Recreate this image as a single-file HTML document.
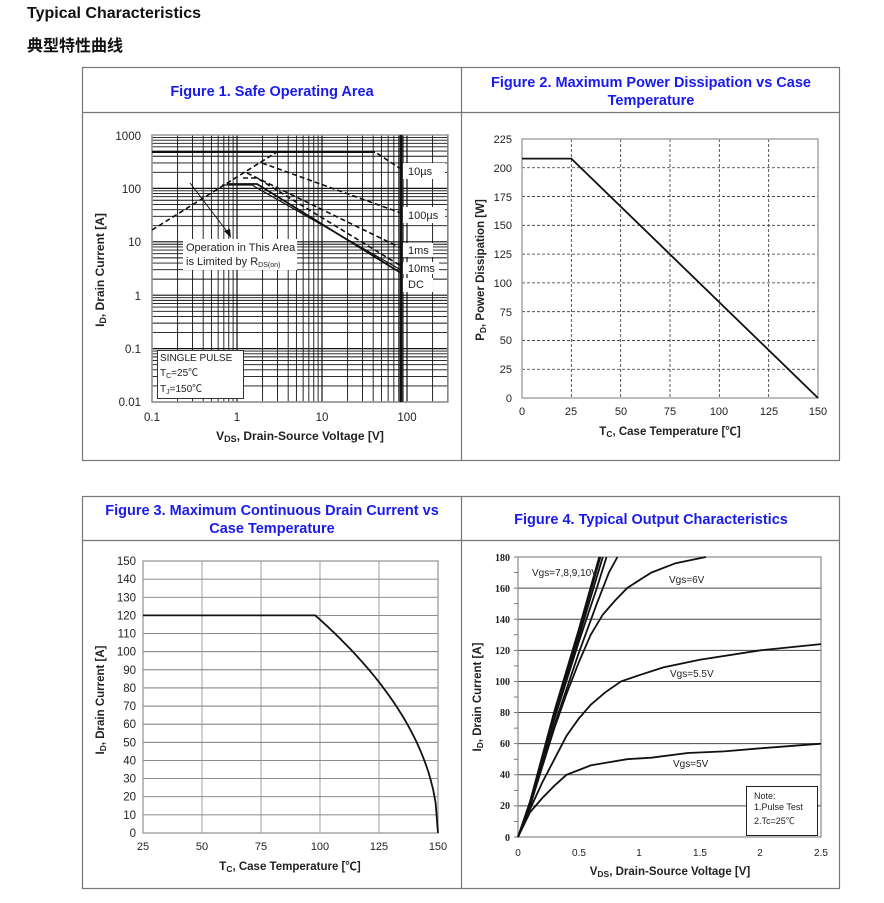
<!DOCTYPE html>
<html><head><meta charset="utf-8"><style>
html,body{margin:0;padding:0;background:#fff;}
svg{display:block;}
text{font-family:"Liberation Sans","Noto Sans CJK SC",sans-serif;}
</style></head><body>
<svg id="s" width="884" height="903" viewBox="0 0 884 903" xmlns="http://www.w3.org/2000/svg">
<text x="27" y="18" font-size="16" font-weight="bold" fill="#111">Typical Characteristics</text>
<text x="27" y="51" font-size="16" font-weight="bold" fill="#111">典型特性曲线</text>
<g fill="none" stroke="#777" stroke-width="1.2">
<rect x="82.5" y="67.5" width="757" height="393"/>
<line x1="461.5" y1="67" x2="461.5" y2="461"/>
<line x1="82" y1="112.5" x2="840" y2="112.5"/>
<rect x="82.5" y="496.5" width="757" height="392"/>
<line x1="461.5" y1="496" x2="461.5" y2="889"/>
<line x1="82" y1="540.5" x2="840" y2="540.5"/>
</g>
<g font-size="14.5" font-weight="bold" fill="#1a1aee" text-anchor="middle">
<text x="272" y="96">Figure 1. Safe Operating Area</text>
<text x="651" y="87">Figure 2. Maximum Power Dissipation vs Case</text>
<text x="651" y="105">Temperature</text>
<text x="272" y="515">Figure 3. Maximum Continuous Drain Current vs</text>
<text x="272" y="533">Case Temperature</text>
<text x="651" y="524">Figure 4. Typical Output Characteristics</text>
</g>
<g id="g1"></g><g id="g2"></g><g id="g3"></g><g id="g4"></g>
<g font-size="11.5" fill="#222" text-anchor="end">
<text x="141" y="140">1000</text><text x="141" y="193">100</text><text x="141" y="246">10</text>
<text x="141" y="300">1</text><text x="141" y="353">0.1</text><text x="141" y="406">0.01</text>
</g>
<g font-size="11.5" fill="#222" text-anchor="middle">
<text x="152" y="421">0.1</text><text x="237" y="421">1</text><text x="322" y="421">10</text><text x="407" y="421">100</text>
</g>
<text x="300" y="440" font-size="12" font-weight="bold" text-anchor="middle" fill="#222">V<tspan font-size="9" dy="2">DS</tspan><tspan dy="-2">, Drain-Source Voltage [V]</tspan></text>
<text transform="translate(104,270) rotate(-90)" font-size="12" font-weight="bold" text-anchor="middle" fill="#222">I<tspan font-size="9" dy="2">D</tspan><tspan dy="-2">, Drain Current [A]</tspan></text>
<g font-size="11" fill="#222" text-anchor="end">
<text x="512" y="143">225</text><text x="512" y="172">200</text><text x="512" y="201">175</text><text x="512" y="229">150</text><text x="512" y="258">125</text><text x="512" y="287">100</text><text x="512" y="316">75</text><text x="512" y="344">50</text><text x="512" y="373">25</text><text x="512" y="402">0</text>
</g>
<g font-size="11" fill="#222" text-anchor="middle">
<text x="522" y="415">0</text><text x="571" y="415">25</text><text x="621" y="415">50</text><text x="670" y="415">75</text><text x="719" y="415">100</text><text x="769" y="415">125</text><text x="818" y="415">150</text>
</g>
<text x="670" y="435" font-size="11.5" font-weight="bold" text-anchor="middle" fill="#222">T<tspan font-size="8.5" dy="2">C</tspan><tspan dy="-2">, Case Temperature [℃]</tspan></text>
<text transform="translate(484,270) rotate(-90)" font-size="11.5" font-weight="bold" text-anchor="middle" fill="#222">P<tspan font-size="8.5" dy="2">D</tspan><tspan dy="-2">, Power Dissipation [W]</tspan></text>
<g font-size="11" fill="#222" text-anchor="end" id="f3y"></g>
<g font-size="11" fill="#222" text-anchor="middle">
<text x="143" y="850">25</text><text x="202" y="850">50</text><text x="261" y="850">75</text><text x="320" y="850">100</text><text x="379" y="850">125</text><text x="438" y="850">150</text>
</g>
<text x="290" y="870" font-size="11.5" font-weight="bold" text-anchor="middle" fill="#222">T<tspan font-size="8.5" dy="2">C</tspan><tspan dy="-2">, Case Temperature [℃]</tspan></text>
<text transform="translate(104,700) rotate(-90)" font-size="11.5" font-weight="bold" text-anchor="middle" fill="#222">I<tspan font-size="8.5" dy="2">D</tspan><tspan dy="-2">, Drain Current [A]</tspan></text>
<g font-size="10" font-weight="bold" fill="#222" text-anchor="end">
<text x="510" y="561" style="font-family:'Liberation Serif',serif">180</text><text x="510" y="592" style="font-family:'Liberation Serif',serif">160</text><text x="510" y="623" style="font-family:'Liberation Serif',serif">140</text><text x="510" y="654" style="font-family:'Liberation Serif',serif">120</text><text x="510" y="685" style="font-family:'Liberation Serif',serif">100</text><text x="510" y="716" style="font-family:'Liberation Serif',serif">80</text><text x="510" y="747" style="font-family:'Liberation Serif',serif">60</text><text x="510" y="778" style="font-family:'Liberation Serif',serif">40</text><text x="510" y="809" style="font-family:'Liberation Serif',serif">20</text><text x="510" y="841" style="font-family:'Liberation Serif',serif">0</text>
</g>
<g font-size="10" fill="#222" text-anchor="middle">
<text x="518" y="856">0</text><text x="579" y="856">0.5</text><text x="639" y="856">1</text><text x="700" y="856">1.5</text><text x="760" y="856">2</text><text x="821" y="856">2.5</text>
</g>
<text x="670" y="875" font-size="11.5" font-weight="bold" text-anchor="middle" fill="#222">V<tspan font-size="8.5" dy="2">DS</tspan><tspan dy="-2">, Drain-Source Voltage [V]</tspan></text>
<text transform="translate(481,697) rotate(-90)" font-size="11.5" font-weight="bold" text-anchor="middle" fill="#222">I<tspan font-size="8.5" dy="2">D</tspan><tspan dy="-2">, Drain Current [A]</tspan></text>
<g font-size="10" fill="#222">
<text x="532" y="576">Vgs=7,8,9,10V</text>
<text x="669" y="583">Vgs=6V</text>
<text x="670" y="677">Vgs=5.5V</text>
<text x="673" y="767">Vgs=5V</text>
</g>
<rect x="746.5" y="786.5" width="71" height="49" fill="#fff" stroke="#222" stroke-width="1"/>
<g font-size="9" fill="#222"><text x="754" y="799">Note:</text><text x="754" y="810">1.Pulse Test</text><text x="754" y="824">2.Tc=25℃</text></g>
</svg>
<script>
var NS="http://www.w3.org/2000/svg";
function el(p,t,a){var e=document.createElementNS(NS,t);for(var k in a)e.setAttribute(k,a[k]);document.getElementById(p).appendChild(e);return e;}
function L(p,x1,y1,x2,y2,c,w,d){var a={x1:x1,y1:y1,x2:x2,y2:y2,stroke:c,"stroke-width":w};if(d)a["stroke-dasharray"]=d;el(p,"line",a);}
function P(p,pts,w,d){var a={points:pts.map(function(q){return q[0].toFixed(1)+","+q[1].toFixed(1)}).join(" "),fill:"none",stroke:"#111","stroke-width":w};if(d)a["stroke-dasharray"]=d;el(p,"polyline",a);}
function T(p,x,y,s,sz,anc){var e=el(p,"text",{x:x,y:y,"font-size":sz||11,fill:"#222","text-anchor":anc||"start"});e.textContent=s;return e;}
var X1=function(v){return 152+85*Math.log10(v/0.1)},Y1=function(i){return 135+53.4*Math.log10(1000/i)};
for(var d=-1;d<=2;d++)for(var m=1;m<=9;m++){var v=m*Math.pow(10,d);var x=X1(v);if(x>448)continue;L("g1",x,135,x,402,"#111",m==1?1.2:0.9);}
for(var d=-2;d<=2;d++)for(var m=1;m<=9;m++){var y=Y1(m*Math.pow(10,d));L("g1",152,y,448,y,"#111",m==1?1.2:0.9);}
el("g1","rect",{x:152,y:135,width:296,height:267,fill:"none",stroke:"#999","stroke-width":1.5});
L("g1",401,135,401,402,"#111",3);
P("g1",[[152,152],[375,152]],2);
P("g1",[[152,230],[277,152],[303,152],[375,152],[401,169]],1.6,"5,3");
P("g1",[[262,163],[401,213]],1.6,"5,3");
P("g1",[[247,173],[401,248]],1.6,"5,3");
P("g1",[[243,178],[257,178],[401,266]],1.6,"5,3");
P("g1",[[227,184],[257,184],[401,273]],1.8);
P("g1",[[222,185],[252,185],[401,270]],1.2);
[[403,163,42,16,"10µs",175],[403,207,42,16,"100µs",219],[403,243,30,14,"1ms",254],[403,262,36,12,"10ms",272],[403,278,30,14,"DC",288]].forEach(function(a){el("g1","rect",{x:a[0],y:a[1],width:a[2],height:a[3],fill:"#fff"});T("g1",a[0]+5,a[5],a[4],11);});
el("g1","rect",{x:183,y:239,width:114,height:31,fill:"#fff"});
T("g1",186,251,"Operation in This Area",11);
var t=T("g1",186,265,"is Limited by R",11);var ts=document.createElementNS(NS,"tspan");ts.setAttribute("font-size","7");ts.setAttribute("dy","2");ts.textContent="DS(on)";t.appendChild(ts);
L("g1",190,183,229,234,"#111",1);
el("g1","polygon",{points:"231,238 224,231 230,229",fill:"#111"});
el("g1","rect",{x:157.5,y:350.5,width:86,height:48,fill:"#fff",stroke:"#333","stroke-width":1});
T("g1",160,361,"SINGLE PULSE",10);
var a=T("g1",160,376,"T",10);var s1=document.createElementNS(NS,"tspan");s1.setAttribute("font-size","7");s1.setAttribute("dy","2");s1.textContent="C";a.appendChild(s1);var s2=document.createElementNS(NS,"tspan");s2.setAttribute("dy","-2");s2.textContent="=25℃";a.appendChild(s2);
var b=T("g1",160,392,"T",10);var s3=document.createElementNS(NS,"tspan");s3.setAttribute("font-size","7");s3.setAttribute("dy","2");s3.textContent="J";b.appendChild(s3);var s4=document.createElementNS(NS,"tspan");s4.setAttribute("dy","-2");s4.textContent="=150℃";b.appendChild(s4);
var X2=function(t){return 522+296*t/150},Y2=function(p){return 398-259*p/225};
for(var k=1;k<9;k++)L("g2",522,Y2(k*25),818,Y2(k*25),"#333",0.8,"3,2");
for(var k=1;k<6;k++)L("g2",X2(k*25),139,X2(k*25),398,"#333",0.8,"3,2");
el("g2","rect",{x:522,y:139,width:296,height:259,fill:"none",stroke:"#999","stroke-width":1.3});
P("g2",[[522,Y2(208)],[X2(25),Y2(208)],[X2(150),Y2(0)]],1.8);
var X3=function(t){return 143+295*(t-25)/125},Y3=function(i){return 833-272*i/150};
for(var k=0;k<=15;k++){if(k>0&&k<15)L("g3",143,Y3(k*10),438,Y3(k*10),"#666",0.8);T("f3y",136,Y3(k*10)+4,String(k*10),11.5,"end");}
for(var k=1;k<5;k++)L("g3",X3(25+k*25),561,X3(25+k*25),833,"#888",0.8);
el("g3","rect",{x:143,y:561,width:295,height:272,fill:"none",stroke:"#999","stroke-width":1.3});
var pts=[[143,Y3(120)],[X3(98),Y3(120)]];for(var t=98;t<=150;t+=1){pts.push([X3(t),Y3(120*Math.sqrt((150-t)/52))]);}
P("g3",pts,1.8);
var X4=function(v){return 518+303*v/2.5},Y4=function(i){return 837-280*i/180};
for(var k=1;k<9;k++)L("g4",518,Y4(k*20),821,Y4(k*20),"#444",1);
for(var k=0;k<=18;k++)L("g4",514,Y4(k*10),518,Y4(k*10),"#555",0.8);
el("g4","rect",{x:518,y:557,width:303,height:280,fill:"none",stroke:"#888","stroke-width":1.2});
function C(a){P("g4",a.map(function(q){return[X4(q[0]),Y4(q[1])]}),1.8);}
C([[0,0],[0.1,16],[0.2,25],[0.3,33],[0.4,40],[0.5,43],[0.6,46],[0.75,48],[0.9,50],[1.1,51],[1.4,54],[1.7,55],[2,57],[2.5,60]]);
C([[0,0],[0.1,18],[0.2,35],[0.3,50],[0.4,65],[0.5,76],[0.6,85],[0.72,93],[0.85,100],[1,104],[1.2,109],[1.5,114],[2,120],[2.5,124]]);
C([[0,0],[0.1,20],[0.2,45],[0.3,70],[0.4,92],[0.5,112],[0.6,130],[0.7,143],[0.8,152],[0.9,160],[1,165],[1.1,170],[1.3,176],[1.55,180]]);
C([[0,0],[0.1,21],[0.3,72],[0.5,118],[0.65,150],[0.75,170],[0.82,180]]);
C([[0,0],[0.1,22],[0.3,76],[0.5,125],[0.65,160],[0.73,180]]);
C([[0,0],[0.1,22],[0.3,78],[0.5,128],[0.7,180]]);
C([[0,0],[0.1,22],[0.3,80],[0.5,131],[0.68,180]]);
C([[0,0],[0.1,23],[0.3,81],[0.5,133],[0.67,180]]);
</script>
</body></html>
